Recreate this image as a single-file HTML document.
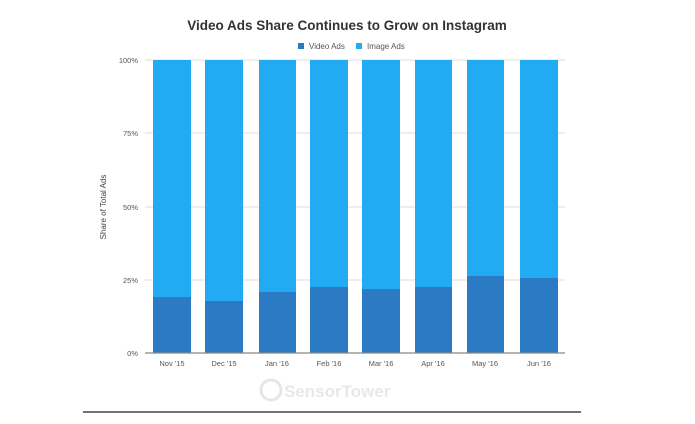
<!DOCTYPE html><html><head><style>body{margin:0;background:#fff;width:695px;height:419px;overflow:hidden}</style></head><body>
<svg width="695" height="419" xmlns="http://www.w3.org/2000/svg" font-family="Liberation Sans, sans-serif">
<text x="347" y="30" text-anchor="middle" font-size="13.5" font-weight="bold" fill="#333">Video Ads Share Continues to Grow on Instagram</text>
<rect x="298" y="43" width="6" height="6" fill="#2a7bc3"/><text x="309" y="49" font-size="8" fill="#555">Video Ads</text>
<rect x="356" y="43" width="6" height="6" fill="#22aaf2"/><text x="367" y="49" font-size="8" fill="#555">Image Ads</text>
<g stroke="#ddd" stroke-width="1"><line x1="145" y1="60" x2="565" y2="60"/><line x1="145" y1="133" x2="565" y2="133"/><line x1="145" y1="207" x2="565" y2="207"/><line x1="145" y1="280" x2="565" y2="280"/></g>
<g font-size="7.5" fill="#555" text-anchor="end"><text x="138" y="63">100%</text><text x="138" y="136">75%</text><text x="138" y="210">50%</text><text x="138" y="283">25%</text><text x="138" y="356">0%</text></g>
<text transform="translate(106,207) rotate(-90)" text-anchor="middle" font-size="8" fill="#444">Share of Total Ads</text>
<g>
<rect x="153" y="60" width="38" height="293" fill="#22aaf2"/><rect x="153" y="297" width="38" height="56" fill="#2a7bc3"/>
<rect x="205" y="60" width="38" height="293" fill="#22aaf2"/><rect x="205" y="301" width="38" height="52" fill="#2a7bc3"/>
<rect x="259" y="60" width="37" height="293" fill="#22aaf2"/><rect x="259" y="292" width="37" height="61" fill="#2a7bc3"/>
<rect x="310" y="60" width="38" height="293" fill="#22aaf2"/><rect x="310" y="287" width="38" height="66" fill="#2a7bc3"/>
<rect x="362" y="60" width="38" height="293" fill="#22aaf2"/><rect x="362" y="289" width="38" height="64" fill="#2a7bc3"/>
<rect x="415" y="60" width="37" height="293" fill="#22aaf2"/><rect x="415" y="287" width="37" height="66" fill="#2a7bc3"/>
<rect x="467" y="60" width="37" height="293" fill="#22aaf2"/><rect x="467" y="276" width="37" height="77" fill="#2a7bc3"/>
<rect x="520" y="60" width="38" height="293" fill="#22aaf2"/><rect x="520" y="278" width="38" height="75" fill="#2a7bc3"/>
</g>
<line x1="145" y1="353" x2="565" y2="353" stroke="#888" stroke-width="1.2"/>
<g font-size="7.5" fill="#555" text-anchor="middle"><text x="172" y="366">Nov '15</text><text x="224" y="366">Dec '15</text><text x="277" y="366">Jan '16</text><text x="329" y="366">Feb '16</text><text x="381" y="366">Mar '16</text><text x="433" y="366">Apr '16</text><text x="485" y="366">May '16</text><text x="539" y="366">Jun '16</text></g>
<circle cx="271" cy="390" r="10" fill="none" stroke="#e6e6e6" stroke-width="3"/>
<text x="284" y="397" font-size="17" font-weight="bold" fill="#e8e8e8">SensorTower</text>
<line x1="83" y1="412" x2="581" y2="412" stroke="#444" stroke-width="1.5"/>
</svg></body></html>
